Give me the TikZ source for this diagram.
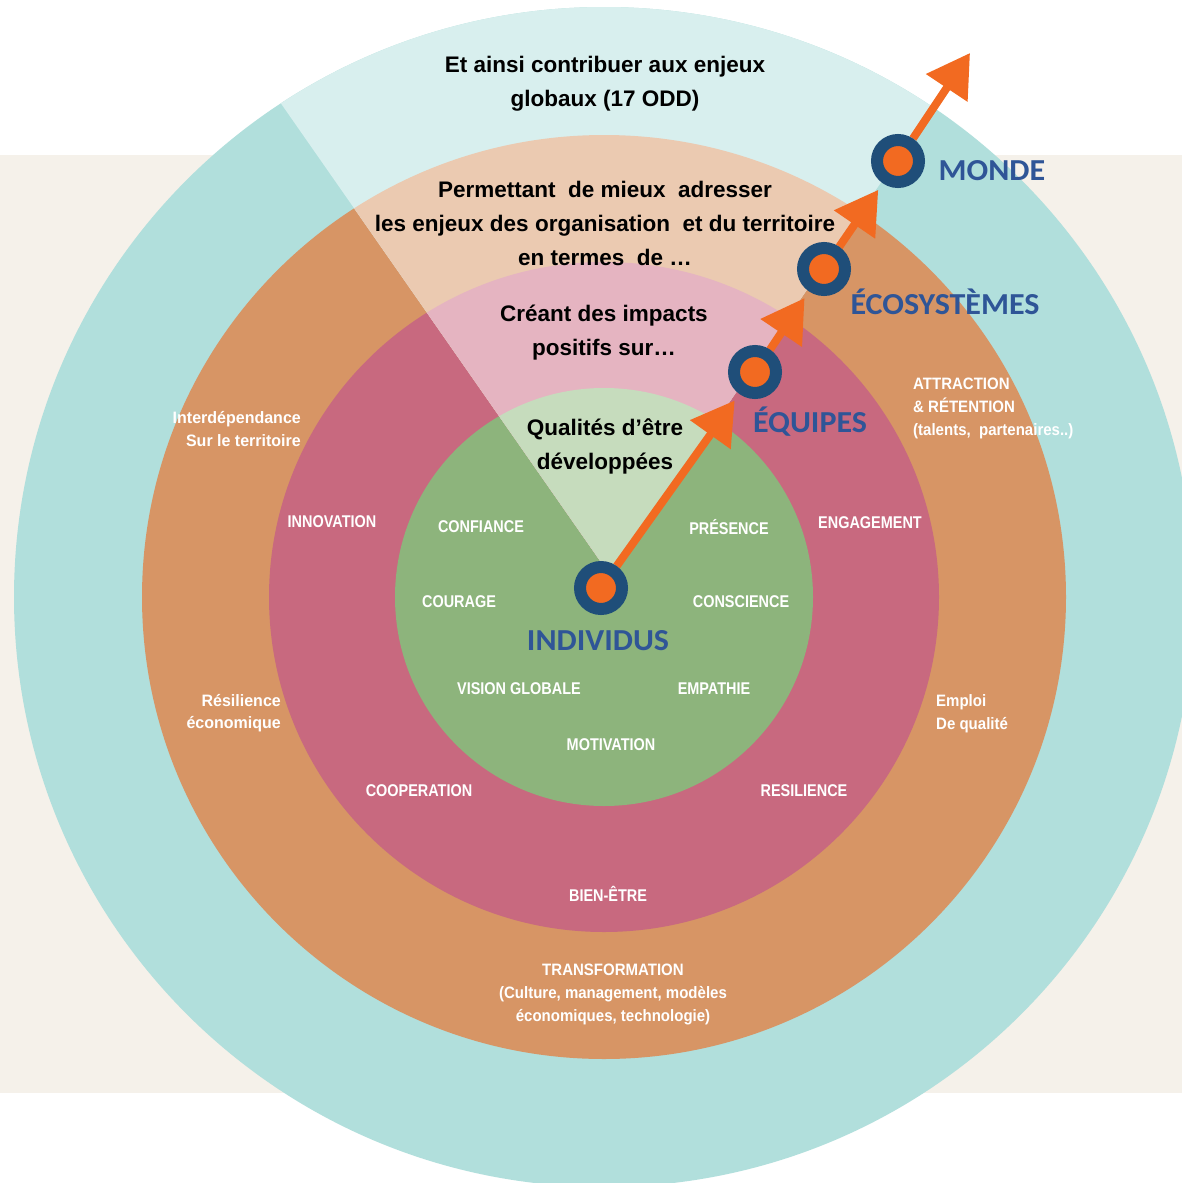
\documentclass[tikz,border=0pt]{standalone}
\usepackage{fontspec}
\setmainfont{Liberation Sans}
\newfontfamily\blackfont{Liberation Sans}
\newfontfamily\narrowfont[FakeStretch=0.85]{Liberation Sans}
\newfontfamily\ringfont[FakeStretch=0.91]{Liberation Sans}
\newfontfamily\ringwidefont[FakeStretch=0.97]{Liberation Sans}
\newfontfamily\calfont[FakeStretch=1.05]{Carlito}
\usetikzlibrary{arrows.meta}
\pgfdeclarelayer{front}
\pgfsetlayers{main,front}
\definecolor{tealc}{HTML}{B1DFDC}
\definecolor{tealL}{HTML}{D8EFEE}
\definecolor{orangec}{HTML}{D79565}
\definecolor{orangeL}{HTML}{EBCAB1}
\definecolor{redc}{HTML}{C8697F}
\definecolor{redL}{HTML}{E5B4C1}
\definecolor{greenc}{HTML}{8DB47C}
\definecolor{greenL}{HTML}{C6DCBD}
\definecolor{beige}{HTML}{F5F1EA}
\definecolor{bluet}{HTML}{2F5597}
\definecolor{navy}{HTML}{1F4E79}
\definecolor{arrowc}{HTML}{F26A21}
\begin{document}
\begin{tikzpicture}[x=1pt,y=-1pt,
  title/.style={font=\blackfont\bfseries\fontsize{22.5}{34}\selectfont, align=center, text=black, inner sep=0pt},
  level/.style={font=\calfont\bfseries\fontsize{30.5}{36}\selectfont, text=bluet, inner sep=0pt},
  quality/.style={font=\narrowfont\bfseries\fontsize{17}{22}\selectfont, text=white, inner sep=0pt},
  ringlabel/.style={font=\ringfont\bfseries\fontsize{16.5}{23}\selectfont, text=white, inner sep=0pt},
  ringwide/.style={font=\ringwidefont\bfseries\fontsize{16.5}{22.5}\selectfont, text=white, inner sep=0pt},
  marker/.style={circle, draw=navy, fill=arrowc, line width=12pt, minimum size=42pt, inner sep=0pt, outer sep=6pt},
  flow/.style={draw=arrowc, line width=8pt, -{Triangle[width=48pt,length=42pt]}},
  gap/.style={shorten >=8pt}
]
\useasboundingbox (0,0) rectangle (1182,1183);
\clip (0,0) rectangle (1182,1183);
\fill[white] (0,0) rectangle (1182,1183);
\fill[beige] (0,155) rectangle (1182,1093);
% rings
\fill[tealc] (604,597) circle[radius=590pt];
\fill[orangec] (604,597) circle[radius=462pt];
\fill[redc] (604,597) circle[radius=335pt];
\fill[greenc] (604,597) circle[radius=209pt];
% light wedge
\begin{scope}
\clip (610,575) -- (139,-100) -- (1076,-100) -- cycle;
\fill[tealL] (604,597) circle[radius=590pt];
\fill[orangeL] (604,597) circle[radius=462pt];
\fill[redL] (604,597) circle[radius=335pt];
\fill[greenL] (604,597) circle[radius=209pt];
\end{scope}
% titles
\node[title] (t1) at (605,84) {Et ainsi contribuer aux enjeux\\globaux (17 ODD)};
\node[title] (t2) at (605,223) {Permettant\ \ de mieux\ \ adresser\\les enjeux des organisation\ \ et du territoire\\en termes\ \ de …};
\node[title] (t3) at (604,333) {Créant des impacts\\positifs sur…};
\node[title] (t4) at (605,446) {Qualités d’être\\développées};
% levels
\node[level] (lmonde) at (992,171) {MONDE};
\node[level] (leco) at (945,302) {ÉCOSYSTÈMES};
\node[level] (lequ) at (810,422) {ÉQUIPES};
\node[level] (lind) at (598,641) {INDIVIDUS};
% qualities
\node[quality] (q1) at (481,527) {CONFIANCE};
\node[quality] (q2) at (729,527) {PRÉSENCE};
\node[quality] (q3) at (459,602) {COURAGE};
\node[quality] (q4) at (741,602) {CONSCIENCE};
\node[quality] (q5) at (519,689) {VISION GLOBALE};
\node[quality] (q6) at (714,689) {EMPATHIE};
\node[quality] (q7) at (611,745) {MOTIVATION};
% team impacts
\node[quality] (r1) at (332,522) {INNOVATION};
\node[quality] (r2) at (870,523) {ENGAGEMENT};
\node[quality] (r3) at (419,791) {COOPERATION};
\node[quality] (r4) at (804,791) {RESILIENCE};
\node[quality] (r5) at (608,894) {BIEN-ÊTRE};
% ecosystem issues
\node[ringwide, align=right, anchor=east] (o1) at (301,429) {Interdépendance\\Sur le territoire};
\node[ringlabel, align=left, anchor=west] (o2) at (913,408) {ATTRACTION\\\& RÉTENTION\\(talents,\ \ partenaires..)};
\node[ringwide, align=right, anchor=east] (o3) at (281,713) {Résilience\\économique};
\node[ringlabel, align=left, anchor=west] (o4) at (936,714) {Emploi\\De qualité};
\node[ringlabel, align=center] (o5) at (613,994) {TRANSFORMATION\\(Culture, management, modèles\\économiques, technologie)};
% path markers (front layer)
\begin{pgfonlayer}{front}
\node[marker] (m1) at (601,588) {};
\node[marker] (m2) at (755,372) {};
\node[marker] (m3) at (824,269) {};
\node[marker] (m4) at (898,161) {};
\end{pgfonlayer}
\coordinate (mend) at (970,53);
\draw[flow, gap] (m1) -- (m2);
\draw[flow, gap] (m2) -- (m3);
\draw[flow, gap] (m3) -- (m4);
\draw[flow] (m4) -- (mend);
\end{tikzpicture}
\end{document}
